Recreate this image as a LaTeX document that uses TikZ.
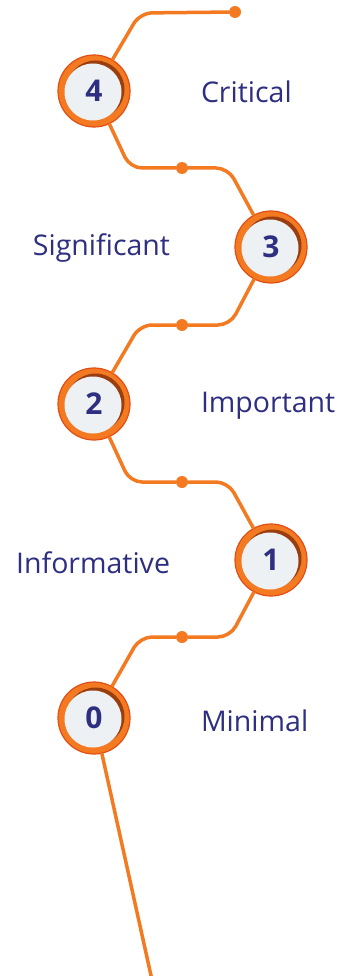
\documentclass[tikz,border=0pt]{standalone}
\usepackage{fontspec}
\setmainfont{Open Sans}
\newcommand*{\labelfont}{\fontsize{28.5}{32}\selectfont}
\newcommand*{\numfont}{\fontsize{30}{34}\selectfont\bfseries}
\definecolor{ring}{HTML}{F47A22}
\definecolor{ringedge}{HTML}{E24E16}
\definecolor{inset}{HTML}{9A3E10}
\definecolor{face}{HTML}{EEF1F3}
\definecolor{navy}{HTML}{2E2F80}
\usetikzlibrary{positioning}
\tikzstyle{base}=[x=1pt, y=-1pt, inner sep=0pt, outer sep=0pt]
\tikzstyle{level}=[circle, minimum size=72pt, fill=ring, draw=ringedge, line width=1.2pt,
    text=navy, font=\numfont,
    path picture={
        \fill [inset] ([shift={(1.5pt,1.5pt)}]path picture bounding box.center) circle (29pt);
        \fill [face] ([shift={(-1pt,-1pt)}]path picture bounding box.center) circle (28.5pt);
    }]
\tikzstyle{dot}=[circle, minimum size=12pt, fill=ring]
\tikzstyle{wire}=[ring, line width=3.5pt, rounded corners=12pt]
\tikzstyle{tag}=[text=navy, font=\labelfont]

\begin{document}
\begin{tikzpicture}[base]
    \path [use as bounding box, fill=white] (0,0) rectangle (343,976);
        % wire corners
        \coordinate (t4) at (140,13);
        \coordinate (a4) at (130,168);
        \coordinate (b4) at (228,168);
        \coordinate (a3) at (230,325);
        \coordinate (b3) at (140,325);
        \coordinate (a2) at (130,482);
        \coordinate (b2) at (228,482);
        \coordinate (a1) at (230,637);
        \coordinate (b1) at (140,637);
        \coordinate (end) at (152,980);
        % dots
        \node [dot] (dtop) at (235,12) {};
        \node [dot] (d4) at (182,168) {};
        \node [dot] (d3) at (182,325) {};
        \node [dot] (d2) at (182,482) {};
        \node [dot] (d1) at (182,637) {};
        % levels
        \node [level] (l4) at (94,91) {4};
        \node [level] (l3) at (271,247) {3};
        \node [level] (l2) at (94,404) {2};
        \node [level] (l1) at (271,560) {1};
        \node [level] (l0) at (94,718) {0};
        % wires
        \draw [wire] (l4) -- (t4) -- (dtop);
        \draw [wire] (l4) -- (a4) -- (d4) -- (b4) -- (l3);
        \draw [wire] (l3) -- (a3) -- (d3) -- (b3) -- (l2);
        \draw [wire] (l2) -- (a2) -- (d2) -- (b2) -- (l1);
        \draw [wire] (l1) -- (a1) -- (d1) -- (b1) -- (l0);
        \draw [wire] (l0) -- (end);
        % labels
        \node [tag, anchor=west] (n4) at (201,92) {Critical};
        \node [tag, anchor=east] (n3) at (170,248) {Significant};
        \node [tag, anchor=west] (n2) at (201,406) {Important};
        \node [tag, anchor=east] (n1) at (170,563) {Informative};
        \node [tag, anchor=west] (n0) at (201,721) {Minimal};
    \end{tikzpicture}
\end{document}
